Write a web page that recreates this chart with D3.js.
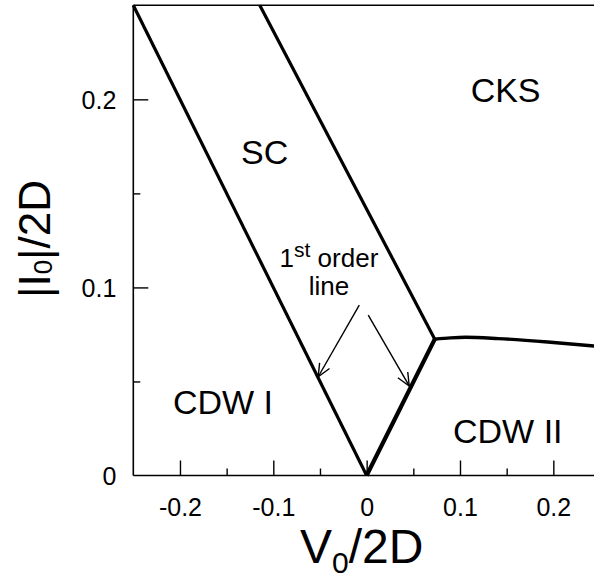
<!DOCTYPE html>
<html><head><meta charset="utf-8">
<script src="https://cdn.jsdelivr.net/npm/d3@7"></script>
<style>
html,body{margin:0;padding:0;background:#fff;}
svg{display:block;font-family:"Liberation Sans",Arial,sans-serif;}
</style></head>
<body>
<svg id="chart" width="594" height="581"></svg>
<script>
// ---- data ----
const xMajorTicks = [-0.2, -0.1, 0, 0.1, 0.2];
const xMajorLabels = ["-0.2", "-0.1", "0", "0.1", "0.2"];
const xMinorTicks = [-0.15, -0.05, 0.05, 0.15];
const yMajorTicks = [0, 0.1, 0.2];
const yMajorLabels = ["0", "0.1", "0.2"];
const yMinorTicks = [0.05, 0.15];

// phase boundaries [V0/2D, |I0|/2D]
const cdw1ScBoundary = [[-0.25, 0.25], [0, 0]];
const cdw2FirstOrder = [[0, 0], [0.073, 0.0725]];
const scCksBoundary = [[0.073, 0.0725], [-0.1145, 0.25]];
const cksCdw2Boundary = [[0.073, 0.0725], [0.09, 0.0732], [0.106, 0.0735], [0.141, 0.0728], [0.194, 0.0710], [0.25, 0.0686]];

const regionNames = ["SC", "CKS", "CDW I", "CDW II"];
const regionAt = [[-0.1345, 0.1654], [0.1114, 0.1984], [-0.2075, 0.0325], [0.0925, 0.0174]];

const arrowFrom = [[-0.0079, 0.0906], [0.0017, 0.0853]];
const arrowTo = [[-0.0519, 0.0525], [0.0456, 0.0476]];

// ---- drawing ----
const svg = d3.select("#chart");
const W = 594, H = 581;
const x = d3.scaleLinear().domain([-0.25, 0.25]).range([133.3, 600]);
const y = d3.scaleLinear().domain([0, 0.25]).range([475.5, 5.3]);

svg.append("rect").attr("width", W).attr("height", H).attr("fill", "#fff");

// frame top
svg.append("line").attr("x1", x(-0.25)).attr("x2", W).attr("y1", y(0.25)).attr("y2", y(0.25))
  .attr("stroke", "#000").attr("stroke-width", 1.6);

// x axis
const gx = svg.append("g").attr("transform", `translate(0,${y(0)})`);
gx.call(d3.axisBottom(x).tickValues(xMajorTicks).tickSize(-15).tickSizeOuter(0)
  .tickFormat((d, i) => xMajorLabels[i]));
const gxm = svg.append("g").attr("transform", `translate(0,${y(0)})`);
gxm.call(d3.axisBottom(x).tickValues(xMinorTicks).tickSize(-7).tickSizeOuter(0).tickFormat(""));
gxm.select(".domain").remove();
gx.select(".domain").attr("d", `M${x(-0.25)},0H${W}`);

// y axis
const gy = svg.append("g").attr("transform", `translate(${x(-0.25)},0)`);
gy.call(d3.axisLeft(y).tickValues(yMajorTicks).tickSize(-15).tickSizeOuter(0)
  .tickFormat((d, i) => yMajorLabels[i]));
const gym = svg.append("g").attr("transform", `translate(${x(-0.25)},0)`);
gym.call(d3.axisLeft(y).tickValues(yMinorTicks).tickSize(-7).tickSizeOuter(0).tickFormat(""));
gym.select(".domain").remove();
gy.select(".domain").attr("d", `M0,${y(0)}V${y(0.25)}`);

[gx, gxm, gy, gym].forEach(g => {
  g.selectAll(".domain").attr("stroke", "#000").attr("stroke-width", 1.6);
  g.selectAll(".tick line").attr("stroke", "#000").attr("stroke-width", 1.4);
});
gy.selectAll(".tick").filter(d => d === 0).select("line").remove();
gx.selectAll(".tick text").attr("font-size", 25).attr("fill", "#000")
  .attr("font-family", "Liberation Sans, Arial, sans-serif")
  .attr("y", 0).attr("dy", 0).attr("transform", "translate(0,40)");
gy.selectAll(".tick text").attr("font-size", 25).attr("fill", "#000")
  .attr("font-family", "Liberation Sans, Arial, sans-serif")
  .attr("x", -17).attr("dy", "0.35em");

// boundary lines
const line = d3.line().x(d => x(d[0])).y(d => y(d[1]));
const curve = d3.line().x(d => x(d[0])).y(d => y(d[1])).curve(d3.curveMonotoneX);
svg.append("path").attr("d", line(cdw1ScBoundary)).attr("fill", "none").attr("stroke", "#000").attr("stroke-width", 3.2);
svg.append("path").attr("d", line(scCksBoundary)).attr("fill", "none").attr("stroke", "#000").attr("stroke-width", 3.2);
svg.append("path").attr("d", line(cdw2FirstOrder)).attr("fill", "none").attr("stroke", "#000").attr("stroke-width", 4.2);
svg.append("path").attr("d", curve(cksCdw2Boundary)).attr("fill", "none").attr("stroke", "#000").attr("stroke-width", 3.4);

// region labels
regionNames.forEach((n, i) => {
  svg.append("text").attr("x", x(regionAt[i][0])).attr("y", y(regionAt[i][1]))
    .attr("font-size", 34).attr("fill", "#000").text(n);
});

// annotation text
const ann = svg.append("text").attr("x", x(-0.0404)).attr("y", y(0.111))
  .attr("text-anchor", "middle").attr("font-size", 26).attr("fill", "#000");
ann.append("tspan").text("1");
ann.append("tspan").attr("font-size", 21).attr("dy", -10).text("st");
ann.append("tspan").attr("dy", 10).text(" order");
svg.append("text").attr("x", x(-0.0404)).attr("y", y(0.096))
  .attr("text-anchor", "middle").attr("font-size", 26).attr("fill", "#000").text("line");

// arrows
arrowFrom.forEach((f, i) => {
  const t = arrowTo[i];
  const x1 = x(f[0]), y1 = y(f[1]), x2 = x(t[0]), y2 = y(t[1]);
  const a = Math.atan2(y2 - y1, x2 - x1);
  const L = 14, ha = 0.42;
  svg.append("line").attr("x1", x1).attr("y1", y1).attr("x2", x2).attr("y2", y2)
    .attr("stroke", "#000").attr("stroke-width", 1.4);
  const p = `M${x2 - L * Math.cos(a - ha)},${y2 - L * Math.sin(a - ha)}L${x2},${y2}L${x2 - L * Math.cos(a + ha)},${y2 - L * Math.sin(a + ha)}`;
  svg.append("path").attr("d", p).attr("fill", "none").attr("stroke", "#000").attr("stroke-width", 1.4);
});

// axis titles
const xt = svg.append("text").attr("x", 300).attr("y", 563).attr("font-size", 48).attr("fill", "#000");
xt.append("tspan").text("V");
xt.append("tspan").attr("font-size", 30).attr("dy", 10).text("0");
xt.append("tspan").attr("dy", -10).text("/2D");

const yt = svg.append("text").attr("transform", "translate(50,298) rotate(-90)")
  .attr("font-size", 44).attr("fill", "#000");
yt.append("tspan").text("|I");
yt.append("tspan").attr("font-size", 26).attr("dy", 2).text("0");
yt.append("tspan").attr("dy", -2).text("|/2D");
</script>
</body></html>
